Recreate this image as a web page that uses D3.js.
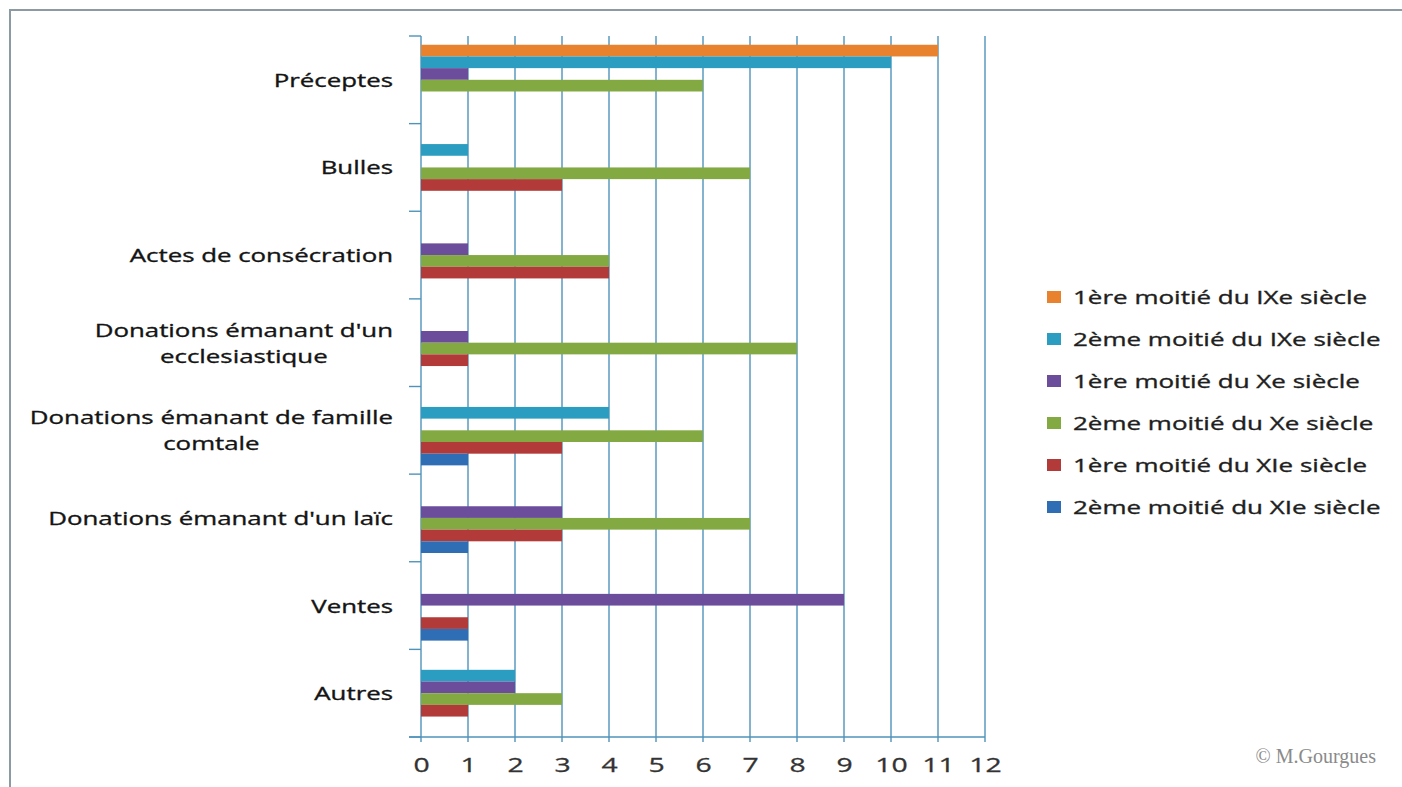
<!DOCTYPE html>
<html>
<head>
<meta charset="utf-8">
<script src="https://cdn.jsdelivr.net/npm/d3@7"></script>
<style>
body { margin: 0; background: #fff; }
svg { display: block; }
</style>
</head>
<body>
<svg id="chart"></svg>
<script>
var width = 1402;
var height = 787;

// categories, top to bottom
var categories = ["Préceptes", "Bulles", "Actes de consécration",
  "Donations émanant d'un ecclesiastique", "Donations émanant de famille comtale",
  "Donations émanant d'un laïc", "Ventes", "Autres"];
// how the long labels are split on two lines
var labelLines = [["Préceptes"], ["Bulles"], ["Actes de consécration"],
  ["Donations émanant d'un", "ecclesiastique"], ["Donations émanant de famille", "comtale"],
  ["Donations émanant d'un laïc"], ["Ventes"], ["Autres"]];

var seriesNames = ["1ère moitié du IXe siècle", "2ème moitié du IXe siècle",
  "1ère moitié du Xe siècle", "2ème moitié du Xe siècle",
  "1ère moitié du XIe siècle", "2ème moitié du XIe siècle"];
var colors = ["#e8822e", "#2b9dc0", "#6b4d9c", "#83a942", "#b23b3a", "#2f6db4"];

var ixFirst  = [11, 0, 0, 0, 0, 0, 0, 0];
var ixSecond = [10, 1, 0, 0, 4, 0, 0, 2];
var xFirst   = [1, 0, 1, 1, 0, 3, 9, 2];
var xSecond  = [6, 7, 4, 8, 6, 7, 0, 3];
var xiFirst  = [0, 3, 4, 1, 3, 3, 1, 1];
var xiSecond = [0, 0, 0, 0, 1, 1, 1, 0];
var seriesValues = [ixFirst, ixSecond, xFirst, xSecond, xiFirst, xiSecond];

var xTicks = d3.range(0, 13);

// the original font is drawn wide, so text is stretched horizontally
var stretch = 1.36;
var fontFam = "'Open Sans', sans-serif";

var svg = d3.select("#chart")
  .attr("width", width)
  .attr("height", height);

// outer frame
svg.append("rect")
  .attr("x", 10).attr("y", 10)
  .attr("width", 1400).attr("height", 800)
  .style("fill", "none")
  .style("stroke", "#8c9ba3")
  .style("stroke-width", 2);

var x = d3.scaleLinear().domain([0, 12]).range([421, 985]);
var y = d3.scaleBand().domain(categories).range([36, 737])
  .paddingInner(0.2).paddingOuter(0.1);
var ySub = d3.scaleBand().domain(d3.range(seriesNames.length)).range([0, y.bandwidth()]);

var gridColor = "#4f93ba";

// vertical gridlines
svg.append("g").selectAll("line")
  .data(xTicks)
  .enter()
  .append("line")
  .attr("x1", function(d) { return x(d); })
  .attr("x2", function(d) { return x(d); })
  .attr("y1", 36)
  .attr("y2", 742)
  .style("stroke", gridColor)
  .style("stroke-width", 1.4);

// category separators (left ticks)
var sepY = categories.map(function(c) { return y(c) - y.step() * y.paddingInner() / 2; });
sepY.push(737);
svg.append("g").selectAll("line")
  .data(sepY)
  .enter()
  .append("line")
  .attr("x1", 409).attr("x2", 421)
  .attr("y1", function(d) { return d; })
  .attr("y2", function(d) { return d; })
  .style("stroke", gridColor)
  .style("stroke-width", 1.4);

// bottom axis
var xAxis = d3.axisBottom(x).tickValues(xTicks).tickSize(0).tickPadding(20);
var gx = svg.append("g").attr("transform", "translate(0,737)").call(xAxis);
gx.select(".domain").remove();
gx.selectAll("text")
  .attr("transform", "scale(1.38,1)")
  .style("font-family", fontFam)
  .style("font-size", "20.5px")
  .style("fill", "#333")
  .style("stroke", "#333")
  .style("stroke-width", 0.3);
svg.append("line")
  .attr("x1", 409).attr("x2", x(12))
  .attr("y1", 737).attr("y2", 737)
  .style("stroke", gridColor)
  .style("stroke-width", 1.4);

// bars
seriesValues.forEach(function(vals, s) {
  svg.append("g").selectAll("rect")
    .data(vals)
    .enter()
    .append("rect")
    .attr("x", x(0))
    .attr("y", function(d, i) { return y(categories[i]) + ySub(s); })
    .attr("width", function(d) { return x(d) - x(0); })
    .attr("height", ySub.bandwidth())
    .style("fill", colors[s]);
});

// category labels, lines centered inside a right aligned block
labelLines.forEach(function(lines, i) {
  var cy = y(categories[i]) + y.bandwidth() / 2;
  var g = svg.append("g")
    .attr("transform", "translate(393," + cy + ") scale(" + stretch + ",1)");
  var t = g.append("text")
    .attr("text-anchor", "middle")
    .style("font-family", fontFam)
    .style("font-size", "19px")
    .style("fill", "#141414")
    .style("stroke", "#141414")
    .style("stroke-width", 0.35);
  lines.forEach(function(line, j) {
    t.append("tspan").text(line)
      .attr("y", 7 + (j - (lines.length - 1) / 2) * 26);
  });
  var w = d3.max(t.selectAll("tspan").nodes(), function(n) { return n.getComputedTextLength(); });
  t.selectAll("tspan").attr("x", -w / 2);
});

// legend
seriesNames.forEach(function(name, i) {
  var ly = 297 + i * 42;
  svg.append("rect")
    .attr("x", 1047).attr("y", ly - 6)
    .attr("width", 14).attr("height", 12)
    .style("fill", colors[i]);
  svg.append("g")
    .attr("transform", "translate(1073," + ly + ") scale(1.405,1)")
    .append("text")
    .attr("y", 7)
    .style("font-family", fontFam)
    .style("font-size", "18.5px")
    .style("fill", "#1e1e1e")
    .style("stroke", "#1e1e1e")
    .style("stroke-width", 0.35)
    .text(name);
});

svg.append("text")
  .attr("x", 1376).attr("y", 763)
  .attr("text-anchor", "end")
  .style("font-family", "'Liberation Serif', serif")
  .style("font-size", "20px")
  .style("fill", "#8a8a8a")
  .text("© M.Gourgues");
</script>
</body>
</html>
